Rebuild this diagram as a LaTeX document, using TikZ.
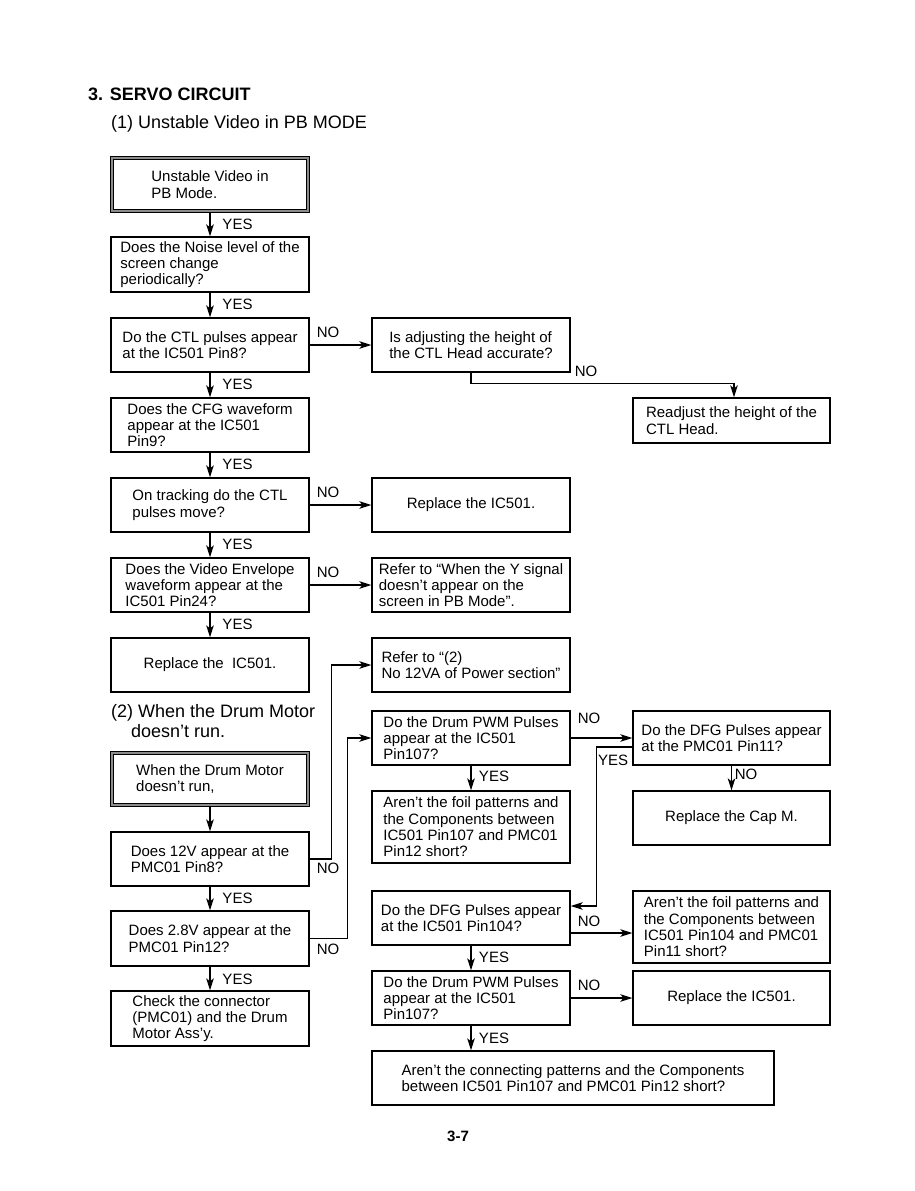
\documentclass[tikz,border=0pt]{standalone}
\usepackage{fontspec}
\setmainfont{Liberation Sans}
\usetikzlibrary{arrows.meta,calc}
\begin{document}
\begin{tikzpicture}[x=1pt,y=-1pt,
  box/.style={draw, line width=1.3pt, rectangle, minimum width=198pt, minimum height=54pt, inner sep=0pt, align=left, font=\fontsize{15}{16.3}\selectfont},
  band/.style={line width=1.6pt, draw=black!45},
  inner/.style={line width=1pt},
  lbl/.style={font=\fontsize{15}{16}\selectfont, inner sep=0pt},
  arr/.style={line width=1.3pt, -{Stealth[length=12pt,width=7.5pt,inset=3pt]}},
  ln/.style={line width=1.3pt}]
\path[use as bounding box, fill=white] (0,0) rectangle (915,1191);

% titles
\node[anchor=west, inner sep=0pt, font=\fontsize{18}{20}\selectfont\bfseries] (t0) at (88,94) {3. SERVO CIRCUIT};
\node[anchor=west, inner sep=0pt, font=\fontsize{18}{20}\selectfont] (t1) at (111,124) {(1) Unstable Video in PB MODE};
\node[anchor=north west, inner sep=0pt, align=left, font=\fontsize{18}{20}\selectfont] (t2) at (111,704) {(2) When the Drum Motor\\\hspace*{20pt}doesn’t run.};
\node[inner sep=0pt, font=\fontsize{15}{16}\selectfont\bfseries] (pg) at (458,1136) {3-7};

% section 1
\node[box, minimum height=55pt] (B1) at (210,184.5) {Unstable Video in\\PB Mode.};
\draw[band] ([shift={(1.7pt,-1.7pt)}]B1.north west) rectangle ([shift={(-1.7pt,1.7pt)}]B1.south east);
\draw[inner] ([shift={(3.1pt,-3.1pt)}]B1.north west) rectangle ([shift={(-3.1pt,3.1pt)}]B1.south east);
\node[box, minimum height=55pt] (B2) at (210,264.5) {Does the Noise level of the\\screen change\\periodically?};
\node[box] (B3) at (210,345) {Do the CTL pulses appear\\at the IC501 Pin8?};
\node[box] (B4) at (210,425) {Does the CFG waveform\\appear at the IC501\\Pin9?};
\node[box] (B5) at (210,505) {On tracking do the CTL\\pulses move?};
\node[box] (B6) at (210,585) {Does the Video Envelope\\waveform appear at the\\IC501 Pin24?};
\node[box] (B7) at (210,665) {Replace the~ IC501.};

\node[box] (R1) at (471,345) {Is adjusting the height of\\the CTL Head accurate?};
\node[box] (R2) at (471,505) {Replace the IC501.};
\node[box] (R3) at (471,585) {Refer to “When the Y signal\\doesn’t appear on the\\screen in PB Mode”.};
\node[box, minimum width=197pt, minimum height=45pt] (RA) at (731.5,420.5) {Readjust the height of the\\CTL Head.};

\draw[arr] (B1) -- (B2);
\draw[arr] (B2) -- (B3);
\draw[arr] (B3) -- (B4);
\draw[arr] (B4) -- (B5);
\draw[arr] (B5) -- (B6);
\draw[arr] (B6) -- (B7);
\draw[arr] (B3) -- (R1);
\draw[arr] (B5) -- (R2);
\draw[arr] (B6) -- (R3);
\coordinate (raT) at ([xshift=2.5pt]RA.north);
\draw[arr] (R1.south) -- ++(0,11) -| (raT);

\node[lbl] (y1) at (237.5,224) {YES};
\node[lbl] (y2) at (237.5,304) {YES};
\node[lbl] (y3) at (237.5,384) {YES};
\node[lbl] (y4) at (237.5,464) {YES};
\node[lbl] (y5) at (237.5,544) {YES};
\node[lbl] (y6) at (237.5,624) {YES};
\node[lbl] (n1) at (328,332) {NO};
\node[lbl] (n2) at (586,371) {NO};
\node[lbl] (n3) at (328,492) {NO};
\node[lbl] (n4) at (328,572) {NO};

% section 2
\node[box] (D1) at (210,779) {When the Drum Motor\\doesn’t run,};
\draw[band] ([shift={(1.7pt,-1.7pt)}]D1.north west) rectangle ([shift={(-1.7pt,1.7pt)}]D1.south east);
\draw[inner] ([shift={(3.1pt,-3.1pt)}]D1.north west) rectangle ([shift={(-3.1pt,3.1pt)}]D1.south east);
\node[box] (D2) at (210,859) {Does 12V appear at the\\PMC01 Pin8?};
\node[box, minimum height=55pt] (D3) at (210,938.5) {Does 2.8V appear at the\\PMC01 Pin12?};
\node[box, minimum height=55pt] (D4) at (210,1018.5) {Check the connector\\(PMC01) and the Drum\\Motor Ass’y.};

\node[box] (M1) at (471,665) {Refer to “(2)\\No 12VA of Power section”};
\node[box] (M2) at (471,738) {Do the Drum PWM Pulses\\appear at the IC501\\Pin107?};
\node[box, minimum height=72pt] (M3) at (471,827) {Aren’t the foil patterns and\\the Components between\\IC501 Pin107 and PMC01\\Pin12 short?};
\node[box] (M4) at (471,918) {Do the DFG Pulses appear\\at the IC501 Pin104?};
\node[box] (M5) at (471,998) {Do the Drum PWM Pulses\\appear at the IC501\\Pin107?};
\node[box, minimum width=402pt] (M6) at (573,1078) {Aren’t the connecting patterns and the Components\\between IC501 Pin107 and PMC01 Pin12 short?};

\node[box, minimum width=197pt] (N1) at (731.5,738) {Do the DFG Pulses appear\\at the PMC01 Pin11?};
\node[box, minimum width=197pt] (N2) at (731.5,818) {Replace the Cap M.};
\node[box, minimum width=197pt, minimum height=72pt] (N3) at (731.5,927) {Aren’t the foil patterns and\\the Components between\\IC501 Pin104 and PMC01\\Pin11 short?};
\node[box, minimum width=197pt] (N4) at (731.5,998) {Replace the IC501.};

\draw[arr] (D1) -- (D2);
\draw[arr] (D2) -- (D3);
\draw[arr] (D3) -- (D4);
\draw[arr] (D2.east) -- ++(22,0) |- (M1.west);
\draw[arr] (D3.east) -- ++(38,0) |- (M2.west);
\draw[arr] (M2) -- (N1);
\draw[arr] (M2) -- (M3);
\draw[arr] (N1.south) -- (N2.north);
\coordinate (n1y) at ([yshift=-9pt]N1.west);
\coordinate (m4y) at ([yshift=12pt]M4.east);
\draw[arr] (n1y) -- ++(-36,0) |- (m4y);
\coordinate (m4n) at ([yshift=-15pt]M4.east);
\draw[arr] (m4n) -- (m4n -| N3.west);
\draw[arr] (M4) -- (M5);
\draw[arr] (M5) -- (N4);
\draw[arr] (M5.south) -- (M5.south |- M6.north);

\node[lbl] (y7) at (237.5,898) {YES};
\node[lbl] (y8) at (237.5,979) {YES};
\node[lbl] (n5) at (328,868) {NO};
\node[lbl] (n6) at (328,949) {NO};
\node[lbl] (n7) at (589,718) {NO};
\node[lbl] (y9) at (613,760) {YES};
\node[lbl] (n8) at (746,774) {NO};
\node[lbl] (y10) at (494,776) {YES};
\node[lbl] (n9) at (589,921) {NO};
\node[lbl] (y11) at (494,957) {YES};
\node[lbl] (n10) at (589,985) {NO};
\node[lbl] (y12) at (494,1038) {YES};
\end{tikzpicture}
\end{document}
